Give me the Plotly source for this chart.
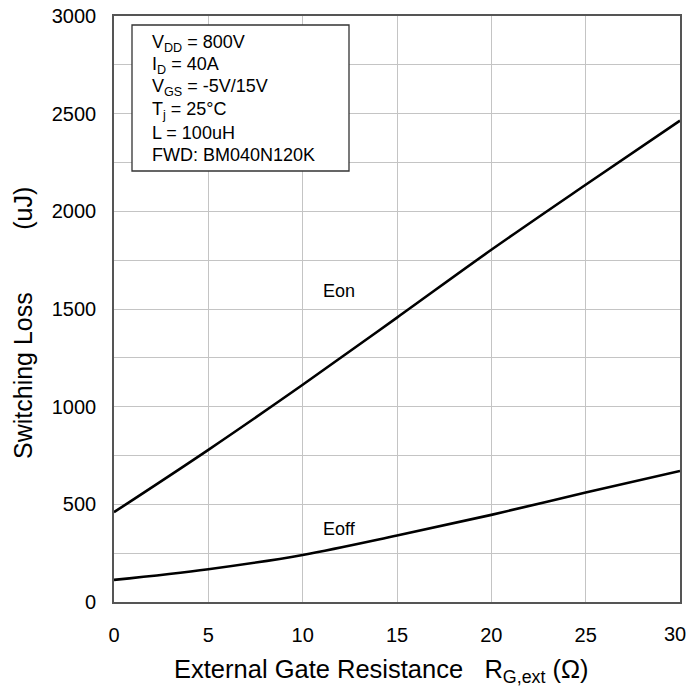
import plotly.graph_objects as go

rg = [0, 5, 10, 15, 20, 25, 30]
eon = [460, 779, 1112, 1456, 1803, 2136, 2464]
eoff = [113, 168, 241, 340, 446, 560, 671]

x_ticks = [0, 5, 10, 15, 20, 25, 30]
x_ticktext = ["0", "5", "10", "15", "20", "25", ""]

cond_lines = [
    "V<sub>DD</sub> = 800V",
    "I<sub>D</sub> = 40A",
    "V<sub>GS</sub> = -5V/15V",
    "T<sub>j</sub> = 25°C",
    "L = 100uH",
    "FWD: BM040N120K",
]

FONT = "Arial, Liberation Sans, sans-serif"
OFF = 0  # body margin removed via post_script

fig = go.Figure()
fig.add_trace(go.Scatter(x=rg, y=eon, mode="lines", line=dict(color="black", width=2.6, shape="spline"), showlegend=False))
fig.add_trace(go.Scatter(x=rg, y=eoff, mode="lines", line=dict(color="black", width=2.6, shape="spline"), showlegend=False))

W, H = 689, 692
L, T = 114 - OFF, 16 - OFF
pw, ph = 566, 586
R = W - L - pw
B = H - T - ph


def px(xs):
    return (xs - OFF - L) / pw


def py(ys):
    return (H - B - (ys - OFF)) / ph


fig.add_shape(type="rect", xref="paper", yref="paper", x0=px(132), x1=px(349), y0=py(171), y1=py(25),
              line=dict(color="#333333", width=1.3), fillcolor="white", layer="above")

for i, t in enumerate(cond_lines):
    fig.add_annotation(xref="paper", yref="paper", x=px(150), y=py(43 + i * 22.4), text=t, showarrow=False,
                       xanchor="left", yanchor="middle", font=dict(family=FONT, size=18, color="black"))

fig.add_annotation(x=11.92, y=1593, text="Eon", showarrow=False, xanchor="center", yanchor="middle",
                   font=dict(family=FONT, size=18, color="black"))
fig.add_annotation(x=11.96, y=372, text="Eoff", showarrow=False, xanchor="center", yanchor="middle",
                   font=dict(family=FONT, size=18, color="black"))

# last x tick label, nudged left so it stays inside the window
fig.add_annotation(x=x_ticks[-1], xref="x", yref="paper", y=py(634), text=str(x_ticks[-1]), showarrow=False,
                   xanchor="center", yanchor="middle", xshift=-5,
                   font=dict(family=FONT, size=20, color="black"))

fig.add_annotation(xref="paper", yref="paper", x=px(23), y=py(323),
                   text="Switching Loss" + "&nbsp;" * 9 + "(uJ)",
                   textangle=-90, showarrow=False, xanchor="center", yanchor="middle",
                   font=dict(family=FONT, size=25, color="black"))
fig.add_annotation(xref="paper", yref="paper", x=px(381), y=py(671),
                   text="External Gate Resistance&nbsp;&nbsp;&nbsp;R<sub>G,ext</sub> (Ω)",
                   showarrow=False, xanchor="center", yanchor="middle",
                   font=dict(family=FONT, size=25.5, color="black"))

fig.update_xaxes(range=[0, 30], tickvals=x_ticks, ticktext=x_ticktext, showgrid=True, gridcolor="#c4c4c4", gridwidth=1.3,
                 showline=True, linecolor="#555555", linewidth=1.6, mirror=True, zeroline=False,
                 ticks="", ticklabelstandoff=14, ticklabeloverflow="allow",
                 tickfont=dict(family=FONT, size=20, color="black"))
fig.update_yaxes(range=[0, 3000], dtick=500, tick0=0, showgrid=True, gridcolor="#c4c4c4", gridwidth=1.3,
                 minor=dict(dtick=250, showgrid=True, gridcolor="#c4c4c4", gridwidth=1.3),
                 showline=True, linecolor="#555555", linewidth=1.6, mirror=True, zeroline=False,
                 ticks="", ticklabelstandoff=12, ticklabeloverflow="allow",
                 tickfont=dict(family=FONT, size=20, color="black"))

fig.update_layout(width=W, height=H, margin=dict(l=L, r=R, t=T, b=B, autoexpand=False),
                  paper_bgcolor="white", plot_bgcolor="white", font=dict(family=FONT))

fig.write_html("out.html", config={"displayModeBar": False},
               post_script="document.body.style.margin='0';document.body.style.overflow='hidden';")
